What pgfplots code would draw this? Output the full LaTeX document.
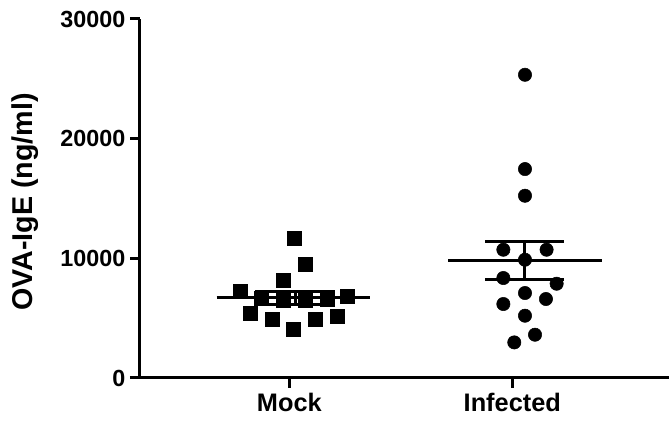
\documentclass[border=0pt]{standalone}
\usepackage{pgfplots}
\pgfplotsset{compat=1.18}
\usepackage{fontspec}
\setmainfont{Liberation Sans}
\begin{document}
\begin{tikzpicture}
\useasboundingbox (-105pt,-33.75pt) rectangle (396.75pt,283.5pt);
\begin{axis}[
  at={(0,0)}, anchor=south west,
  width=396.75pt, height=269.25pt, scale only axis,
  xmin=0.33, xmax=2.703, ymin=0, ymax=30000,
  clip=false,
  axis x line*=bottom, axis y line*=left,
  axis line style={line width=2.25pt, -},
  xtick={1,2}, xticklabels={Mock,Infected},
  ytick={0,10000,20000,30000},
  scaled y ticks=false,
  /pgf/number format/.cd, 1000 sep={}, assume math mode=true,
  /pgfplots/.cd,
  tick align=outside, major tick length=7.5pt,
  tick style={line width=2.25pt, black},
  yticklabel style={font=\fontsize{17.5}{20}\selectfont\bfseries},
  xticklabel style={font=\fontsize{19}{22}\selectfont\bfseries},
  ylabel={OVA-IgE (ng/ml)},
  ylabel style={at={(axis description cs:-0.2168,0.49)}, anchor=center,
    font=\fontsize{21.5}{24}\selectfont\bfseries},
]
% Mock group
\addplot[only marks, mark=square*, mark size=5.25pt, black] coordinates {
  (1.021,11637) (1.070,9465) (0.972,8154) (0.779,7250)
  (0.873,6700) (0.972,6500) (1.070,6500) (1.169,6600) (1.259,6850)
  (0.824,5430) (0.922,4929) (1.017,4035) (1.115,4929) (1.214,5146)
};
% Infected group
\addplot[only marks, mark=*, mark size=5pt, black] coordinates {
  (2.057,25338) (2.057,17460) (2.057,15230)
  (1.960,10718) (2.154,10718) (2.057,9883)
  (1.960,8354) (2.199,7878) (2.057,7101) (1.960,6182) (2.151,6600)
  (2.057,5205) (2.102,3617) (2.009,2974)
};
% mean and SEM, Mock (mean 6716, SEM 534)
\addplot[black, line width=2.5pt, no marks] coordinates {(0.674,6716) (1.362,6716)};
\addplot[black, line width=2.25pt, no marks] coordinates {(1.026,6182) (1.026,7250)};
\addplot[black, line width=2.25pt, no marks] coordinates {(0.846,7250) (1.205,7250)};
\addplot[black, line width=2.25pt, no marks] coordinates {(0.846,6182) (1.205,6182)};
% mean and SEM, Infected (mean 9804, SEM 1613)
\addplot[black, line width=2.5pt, no marks] coordinates {(1.713,9804) (2.401,9804)};
\addplot[black, line width=2.25pt, no marks] coordinates {(2.057,8191) (2.057,11417)};
\addplot[black, line width=2.25pt, no marks] coordinates {(1.878,11417) (2.232,11417)};
\addplot[black, line width=2.25pt, no marks] coordinates {(1.878,8191) (2.232,8191)};
\end{axis}
\end{tikzpicture}
\end{document}
